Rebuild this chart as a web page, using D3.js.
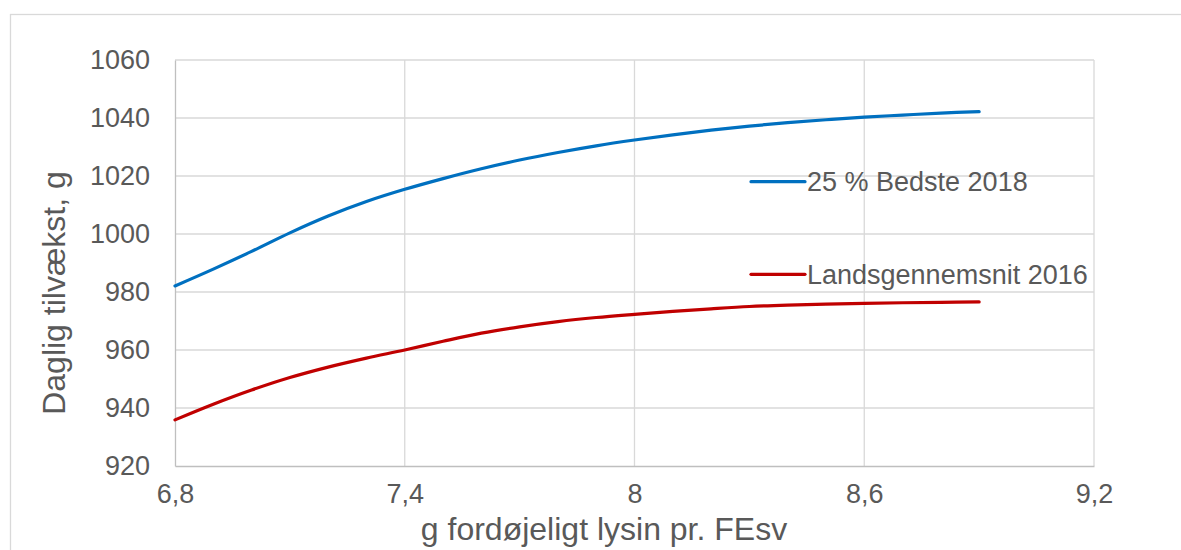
<!DOCTYPE html>
<html>
<head>
<meta charset="utf-8">
<script src="https://cdn.jsdelivr.net/npm/d3@7"></script>
<style>
  html, body { margin: 0; padding: 0; background: #fff; }
  svg { display: block; font-family: "Liberation Sans", Arial, sans-serif; }
</style>
</head>
<body>
<svg id="chart" width="1181" height="550"></svg>
<script>
// Lysin level (g fordøjeligt lysin pr. FEsv)
const lysin = [6.8, 6.9, 7.0, 7.1, 7.2, 7.3, 7.4, 7.5, 7.6, 7.7, 7.8, 7.9,
               8.0, 8.1, 8.2, 8.3, 8.4, 8.5, 8.6, 8.7, 8.8, 8.9];

// Daily gain, g
const bedste2018 = [982.1, 987.9, 994.0, 1000.4, 1006.2, 1011.2, 1015.4, 1019.1, 1022.5, 1025.5,
                    1028.1, 1030.4, 1032.4, 1034.2, 1035.8, 1037.2, 1038.4, 1039.4, 1040.3, 1041.0,
                    1041.7, 1042.2];
const lands2016 = [935.9, 941.3, 946.2, 950.5, 954.1, 957.2, 960.0, 963.0, 965.8, 968.0,
                   969.8, 971.2, 972.3, 973.3, 974.2, 975.0, 975.5, 975.85, 976.1, 976.3,
                   976.45, 976.6];

const seriesNames = ["25 % Bedste 2018", "Landsgennemsnit 2016"];
const seriesColors = ["#0070C0", "#C00000"];

const xTicks = [6.8, 7.4, 8.0, 8.6, 9.2];
const xTickLabels = ["6,8", "7,4", "8", "8,6", "9,2"];
const yTicks = [920, 940, 960, 980, 1000, 1020, 1040, 1060];

const xTitle = "g fordøjeligt lysin pr. FEsv";
const yTitle = "Daglig tilvækst, g";

const svg = d3.select("#chart");
const plot = { left: 175, right: 1094, top: 60, bottom: 466 };
const tickFont = 27;
const titleFont = 32;

const x = d3.scaleLinear().domain([6.8, 9.2]).range([plot.left, plot.right]);
const y = d3.scaleLinear().domain([920, 1060]).range([plot.bottom, plot.top]);

// chart frame
svg.append("rect")
  .attr("x", 10.5).attr("y", 14.5)
  .attr("width", 1300).attr("height", 700)
  .attr("fill", "#fff").attr("stroke", "#d9d9d9").attr("stroke-width", 1.3);

// gridlines
const grid = svg.append("g").attr("stroke", "#d9d9d9").attr("stroke-width", 1.3);
grid.selectAll("line.h").data(yTicks.slice(1)).join("line")
  .attr("x1", plot.left).attr("x2", plot.right)
  .attr("y1", d => y(d)).attr("y2", d => y(d));
grid.selectAll("line.v").data(xTicks.slice(1)).join("line")
  .attr("y1", plot.top).attr("y2", plot.bottom)
  .attr("x1", d => x(d)).attr("x2", d => x(d));

// axes
const xAxis = d3.axisBottom(x).tickValues(xTicks)
  .tickFormat((d, i) => xTickLabels[i]).tickSize(0).tickPadding(18);
const gx = svg.append("g").attr("transform", `translate(0,${plot.bottom})`).call(xAxis);
gx.select(".domain").attr("stroke", "#bfbfbf").attr("stroke-width", 1.3);
gx.selectAll("text").attr("fill", "#595959").attr("font-size", tickFont)
  .attr("font-family", "'Liberation Sans', Arial, sans-serif");

const yAxis = d3.axisLeft(y).tickValues(yTicks).tickFormat(d3.format("d"))
  .tickSize(0).tickPadding(25);
const gy = svg.append("g").attr("transform", `translate(${plot.left},0)`).call(yAxis);
gy.select(".domain").attr("stroke", "#bfbfbf").attr("stroke-width", 1.3);
gy.selectAll("text").attr("fill", "#595959").attr("font-size", tickFont)
  .attr("font-family", "'Liberation Sans', Arial, sans-serif");

// series lines
const line = d3.line().x((d, i) => x(lysin[i])).y(d => y(d)).curve(d3.curveCatmullRom.alpha(0.5));
[bedste2018, lands2016].forEach((vals, k) => {
  svg.append("path").datum(vals)
    .attr("d", line)
    .attr("fill", "none")
    .attr("stroke", seriesColors[k])
    .attr("stroke-width", 3.2)
    .attr("stroke-linecap", "round");
});

// legend
const legendY = [181.7, 274.3];
const legend = svg.append("g");
seriesNames.forEach((name, k) => {
  legend.append("line")
    .attr("x1", 751).attr("x2", 805)
    .attr("y1", legendY[k]).attr("y2", legendY[k])
    .attr("stroke", seriesColors[k]).attr("stroke-width", 3.2)
    .attr("stroke-linecap", "round");
  legend.append("text")
    .attr("x", 807).attr("y", legendY[k]).attr("dy", "0.36em")
    .attr("fill", "#595959").attr("font-size", tickFont)
    .text(name);
});

// axis titles
svg.append("text")
  .attr("x", 604).attr("y", 540)
  .attr("text-anchor", "middle")
  .attr("fill", "#595959").attr("font-size", titleFont)
  .text(xTitle);

svg.append("text")
  .attr("transform", `translate(65,293) rotate(-90)`)
  .attr("text-anchor", "middle")
  .attr("fill", "#595959").attr("font-size", titleFont)
  .text(yTitle);
</script>
</body>
</html>
